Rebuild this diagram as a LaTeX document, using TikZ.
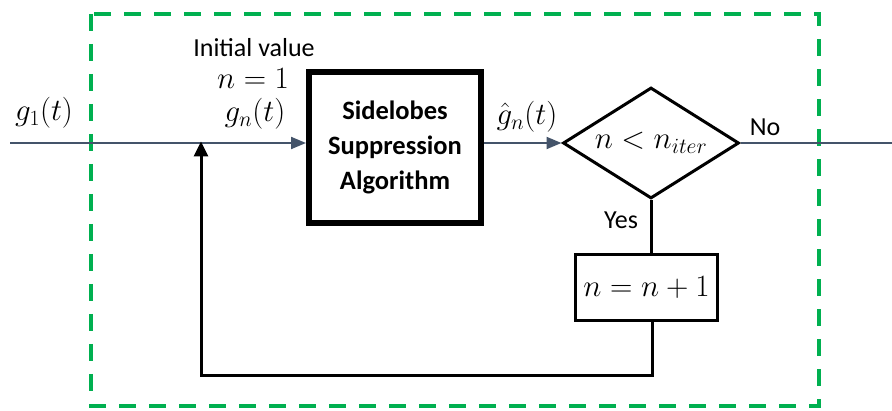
\RequirePackage{fix-cm}
\documentclass[tikz,border=0pt]{standalone}
\usepackage{fontspec}
\setmainfont{Carlito}
\usetikzlibrary{arrows.meta,shapes.geometric}

\definecolor{frame}{RGB}{0,176,80}
\definecolor{signal}{RGB}{68,84,106}

\begin{document}
\begin{tikzpicture}[x=1pt,y=-1pt]
\tikzset{txt/.style = {inner sep=0pt,font=\fontsize{26}{31}\selectfont}}
\tikzset{mth/.style = {inner sep=0pt,font=\fontsize{31}{37}\selectfont}}
\tikzset{block/.style = {draw,line width=6pt,minimum width=172pt,minimum height=151pt,
  align=center,font=\fontsize{26.5}{35}\selectfont\bfseries}}
\tikzset{test/.style = {diamond,draw,line width=3pt,aspect=1.585,inner sep=0pt,
  minimum width=176pt,minimum height=111pt,font=\fontsize{31}{37}\selectfont}}
\tikzset{stepbox/.style = {draw,line width=3pt,minimum width=142pt,minimum height=66pt,
  font=\fontsize{31}{37}\selectfont}}
\tikzset{edge/.style = {->,>={Triangle[length=15pt,width=12pt]},draw=signal,fill=signal,line width=2pt}}
\tikzset{loop/.style = {->,>={Triangle[length=15pt,width=14pt]},line width=3pt}}
\useasboundingbox (0,0) rectangle (892,411);

\draw[frame,line width=4pt,dash pattern=on 17pt off 13pt] (91,14) rectangle (819,406);

\node[block] (alg) at (395,147.5) {Sidelobes\\Suppression\\Algorithm};
\node[test] (cond) at (651,143) {$n<n_{iter}$};
\node[stepbox] (inc) at (646.5,287.5) {$n=n+1$};

\coordinate (start) at (10,143);
\coordinate (stop) at (892,143);
\coordinate (fb) at (201,143);
\coordinate (low) at (652,376);

\node[mth] (g1) at (44,113) {$g_1(t)$};
\node[txt] (init) at (254,48) {Initial value};
\node[mth] (n1) at (253,79) {$n=1$};
\node[mth] (gn) at (255,114) {$g_n(t)$};
\node[mth] (gh) at (527,117) {$\hat{g}_n(t)$};
\node[txt] (no) at (765,127) {No};
\node[txt] (yes) at (621,220) {Yes};

\draw[edge] (start) -- (start -| alg.west);
\draw[edge] (alg.east |- start) -- (cond.west);
\draw[signal,line width=2pt] (cond.east) -- (stop);
\draw[line width=3pt] (cond.south) -- (cond.south |- inc.north);
\draw[loop] (inc.south -| low) -- (low) -| ([yshift=1.5pt]fb);
\end{tikzpicture}
\end{document}
